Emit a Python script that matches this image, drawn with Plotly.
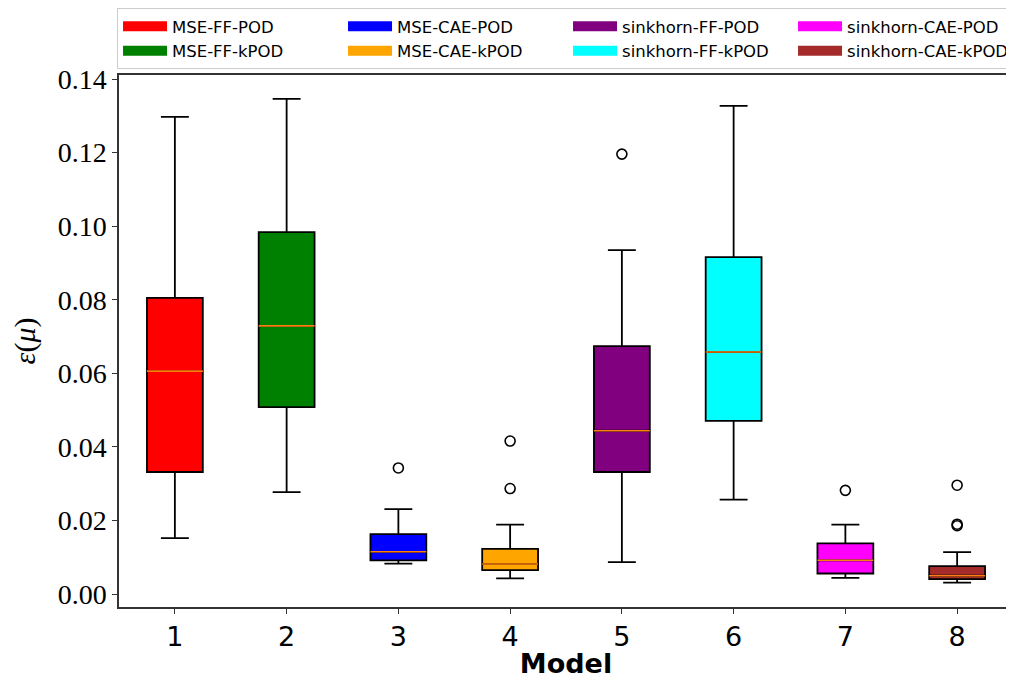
import plotly.graph_objects as go

# ---- data ----
models = [1, 2, 3, 4, 5, 6, 7, 8]
names = ["MSE-FF-POD", "MSE-FF-kPOD", "MSE-CAE-POD", "MSE-CAE-kPOD",
         "sinkhorn-FF-POD", "sinkhorn-FF-kPOD", "sinkhorn-CAE-POD", "sinkhorn-CAE-kPOD"]
colors = ["red", "green", "blue", "orange", "purple", "cyan", "magenta", "brown"]
lower = [0.0152, 0.0277, 0.0083, 0.0043, 0.0087, 0.0257, 0.0044, 0.0031]
q1 = [0.0332, 0.0508, 0.0092, 0.0065, 0.0332, 0.0471, 0.0056, 0.0041]
median = [0.0606, 0.0729, 0.0115, 0.0082, 0.0444, 0.0658, 0.0092, 0.0050]
q3 = [0.0805, 0.0984, 0.0163, 0.0123, 0.0674, 0.0916, 0.0138, 0.0076]
upper = [0.1297, 0.1346, 0.0231, 0.0189, 0.0935, 0.1327, 0.0189, 0.0114]
outlier_model = [3, 4, 4, 5, 7, 8, 8, 8]
outlier_value = [0.0343, 0.0416, 0.0287, 0.1196, 0.0282, 0.0296, 0.0190, 0.0186]
yticks = [0.00, 0.02, 0.04, 0.06, 0.08, 0.10, 0.12, 0.14]

BOX_W = 0.5
fig = go.Figure()

for i, m in enumerate(models):
    fig.add_trace(go.Box(
        x=[m], q1=[q1[i]], median=[median[i]], q3=[q3[i]],
        lowerfence=[lower[i]], upperfence=[upper[i]],
        name=names[i], fillcolor=colors[i],
        line=dict(color="black", width=1.8),
        width=BOX_W, whiskerwidth=0.5, boxpoints=False,
        showlegend=False, hoverinfo="skip",
    ))

# median lines (orange, as in matplotlib default)
mx, my = [], []
for m, med in zip(models, median):
    mx += [m - BOX_W / 2, m + BOX_W / 2, None]
    my += [med, med, None]
fig.add_trace(go.Scatter(x=mx, y=my, mode="lines",
                         line=dict(color="#ff7f0e", width=1.6),
                         showlegend=False, hoverinfo="skip"))

# outliers
fig.add_trace(go.Scatter(x=outlier_model, y=outlier_value, mode="markers",
                         marker=dict(symbol="circle-open", size=10,
                                     color="black", line=dict(width=1.6)),
                         showlegend=False, hoverinfo="skip"))

# legend swatches (wide colour patches, like matplotlib)
ranks = [1, 5, 2, 6, 3, 7, 4, 8]
for i in range(len(models)):
    fig.add_trace(go.Scatter(
        x=[None], y=[None], mode="lines", name=names[i],
        line=dict(color=colors[i], width=10),
        legendrank=ranks[i], hoverinfo="skip",
    ))

fig.update_layout(
    width=1006, height=673,
    margin=dict(l=111, r=1, t=67, b=74, autoexpand=False),
    paper_bgcolor="white", plot_bgcolor="white",
    boxmode="overlay",
    showlegend=True,
    legend=dict(
        orientation="h", x=-0.0022, xanchor="left", y=1.126, yanchor="top",
        font=dict(family="DejaVu Sans", size=16.5, color="black"),
        bordercolor="#cccccc", borderwidth=1, bgcolor="white",
        entrywidth=166, itemwidth=44,
    ),
    xaxis=dict(
        range=[0.5, 8.5], tickvals=models, ticktext=[str(m) for m in models],
        ticks="outside", ticklen=5, tickcolor="#333", tickwidth=1.3,
        showline=True, linecolor="#333", linewidth=1.5, mirror=True,
        showgrid=False, zeroline=False, automargin=False,
        tickfont=dict(family="DejaVu Sans", size=27, color="black"),
        title=dict(text="<b>Model</b>", standoff=3,
                   font=dict(family="DejaVu Sans", size=27, color="black")),
    ),
    yaxis=dict(
        range=[-0.0035, 0.1411], tickvals=yticks, tickformat=".2f",
        ticks="outside", ticklen=5, tickcolor="#333", tickwidth=1.3,
        showline=True, linecolor="#333", linewidth=1.5, mirror=True,
        showgrid=False, zeroline=False, automargin=False,
        tickfont=dict(family="Liberation Serif", size=28, color="black"),
        title=dict(text="<i>ε</i>(<i>μ</i>)", standoff=14,
                   font=dict(family="Liberation Serif", size=30, color="black")),
    ),
)

fig.write_html("out.html")
